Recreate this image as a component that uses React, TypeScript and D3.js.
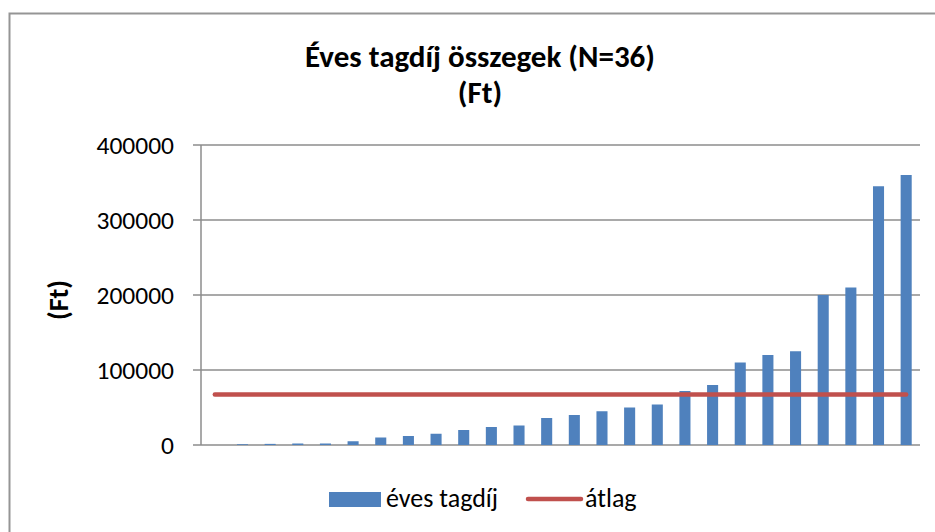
import React, { useEffect, useRef } from 'react';
import * as d3 from 'd3';

const categories = [
  'c1', 'c2', 'c3', 'c4', 'c5', 'c6', 'c7', 'c8', 'c9', 'c10', 'c11', 'c12', 'c13',
  'c14', 'c15', 'c16', 'c17', 'c18', 'c19', 'c20', 'c21', 'c22', 'c23', 'c24', 'c25', 'c26',
];
const fees = [
  0, 1000, 1500, 2000, 2000, 5000, 10000, 12000, 15000, 20000, 24000, 26000, 36000,
  40000, 45000, 50000, 54000, 72000, 80000, 110000, 120000, 125000, 200000, 210000, 345000, 360000,
];
const average = categories.map(() => 67500);
const yTicks = [0, 100000, 200000, 300000, 400000];

const FONT = "Carlito, Calibri, 'Open Sans', sans-serif";

const App: React.FC = () => {
  const svgRef = useRef<SVGSVGElement>(null);
  const width = 935;
  const height = 532;

  useEffect(() => {
    if (!svgRef.current) return;
    const svg = d3.select(svgRef.current);
    svg.selectAll('*').remove();

    const margin = { top: 145, right: 15, bottom: 87, left: 201 };
    const innerWidth = width - margin.left - margin.right;
    const innerHeight = height - margin.top - margin.bottom;

    // chart frame
    svg.append('rect')
      .attr('x', 9.5).attr('y', 13.5)
      .attr('width', 960).attr('height', 560)
      .attr('fill', 'white')
      .attr('stroke', '#959595')
      .attr('stroke-width', 2);

    // title
    const title = svg.append('text')
      .attr('text-anchor', 'middle')
      .attr('font-family', FONT)
      .attr('font-weight', 'bold')
      .attr('font-size', 31)
      .attr('fill', '#000');
    title.append('tspan').attr('x', 480).attr('y', 67).text('Éves tagdíj összegek (N=36)');
    title.append('tspan').attr('x', 480).attr('y', 103).text('(Ft)');

    const g = svg.append('g')
      .attr('transform', `translate(${margin.left},${margin.top})`);

    const x = d3.scaleBand<string>()
      .domain(categories)
      .range([0, innerWidth])
      .paddingInner(0.6)
      .paddingOuter(0.3);

    const xc = (c: string) => (x(c) as number) + x.bandwidth() / 2;

    const y = d3.scaleLinear()
      .domain([0, 400000])
      .range([innerHeight, 0]);

    // gridlines
    g.selectAll('.grid')
      .data(yTicks)
      .enter().append('line')
      .attr('x1', -8)
      .attr('x2', innerWidth)
      .attr('y1', (d) => y(d))
      .attr('y2', (d) => y(d))
      .attr('stroke', '#8c8c8c')
      .attr('stroke-width', 1.5);

    // y axis line
    g.append('line')
      .attr('x1', 0).attr('x2', 0)
      .attr('y1', 0).attr('y2', innerHeight)
      .attr('stroke', '#8c8c8c')
      .attr('stroke-width', 1.5);

    // tick labels
    g.selectAll('.ytick')
      .data(yTicks)
      .enter().append('text')
      .attr('x', -27)
      .attr('y', (d) => y(d))
      .attr('dy', '0.36em')
      .attr('text-anchor', 'end')
      .attr('font-family', FONT)
      .attr('font-size', 25.5)
      .attr('fill', '#000')
      .text((d) => String(d));

    // y axis title
    svg.append('text')
      .attr('transform', `translate(68,300) rotate(-90)`)
      .attr('text-anchor', 'middle')
      .attr('font-family', FONT)
      .attr('font-weight', 'bold')
      .attr('font-size', 28)
      .text('(Ft)');

    // bars
    g.selectAll('.bar')
      .data(fees)
      .enter().append('rect')
      .attr('x', (_, i) => x(categories[i]) as number)
      .attr('y', (d) => y(d))
      .attr('width', x.bandwidth())
      .attr('height', (d) => innerHeight - y(d))
      .attr('fill', '#4f81bd');

    // average line
    const line = d3.line<number>()
      .x((_, i) => xc(categories[i]))
      .y((d) => y(d));

    g.append('path')
      .datum(average)
      .attr('fill', 'none')
      .attr('stroke', '#c0504d')
      .attr('stroke-width', 4.5)
      .attr('stroke-linecap', 'round')
      .attr('d', line);

    // legend
    const legend = svg.append('g').attr('font-family', FONT).attr('font-size', 26);
    legend.append('rect')
      .attr('x', 329).attr('y', 492)
      .attr('width', 52).attr('height', 15)
      .attr('fill', '#4f81bd');
    legend.append('text')
      .attr('x', 386).attr('y', 507)
      .text('éves tagdíj');
    legend.append('line')
      .attr('x1', 528).attr('x2', 581)
      .attr('y1', 499).attr('y2', 499)
      .attr('stroke', '#c0504d')
      .attr('stroke-width', 4.5)
      .attr('stroke-linecap', 'round');
    legend.append('text')
      .attr('x', 585).attr('y', 507)
      .text('átlag');
  }, []);

  return (
    <svg
      ref={svgRef}
      width={width}
      height={height}
      style={{ position: 'absolute', left: 0, top: 0, background: 'white' }}
    />
  );
};

export default App;
